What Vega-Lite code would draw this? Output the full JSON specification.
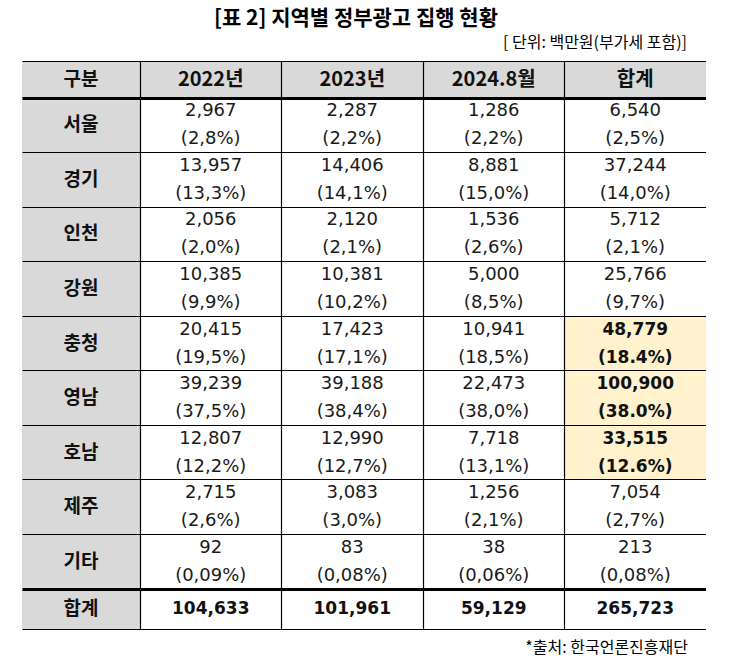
{
  "$schema": "https://vega.github.io/schema/vega-lite/v6.json",
  "background": "white",
  "padding": {"left": 22, "top": 8, "right": 0, "bottom": 12},
  "title": {"text": "[표 2] 지역별 정부광고 집행 현황", "anchor": "middle", "font": "Noto Sans CJK KR", "fontSize": 21, "fontWeight": "bold", "color": "#000", "dx": -8, "offset": 6},
  "config": {
    "view": {"stroke": null},
    "axis": {"labels": false, "ticks": false, "domain": false, "grid": false, "zindex": 1, "gridColor": "#000", "gridOpacity": 1, "gridWidth": 1.2, "domainColor": "#000", "domainWidth": 1.2, "minExtent": 0}
  },
  "datasets": {
    "hdrLabel": [{"col": "구분"}],
    "cols": [{"col": "2022년"}, {"col": "2023년"}, {"col": "2024.8월"}, {"col": "합계"}],
    "regions": [{"region": "서울"}, {"region": "경기"}, {"region": "인천"}, {"region": "강원"}, {"region": "충청"}, {"region": "영남"}, {"region": "호남"}, {"region": "제주"}, {"region": "기타"}],
    "body": [
      {"region": "서울", "col": "2022년", "num": 2967, "pct": "(2,8%)"},
      {"region": "서울", "col": "2023년", "num": 2287, "pct": "(2,2%)"},
      {"region": "서울", "col": "2024.8월", "num": 1286, "pct": "(2,2%)"},
      {"region": "서울", "col": "합계", "num": 6540, "pct": "(2,5%)"},
      {"region": "경기", "col": "2022년", "num": 13957, "pct": "(13,3%)"},
      {"region": "경기", "col": "2023년", "num": 14406, "pct": "(14,1%)"},
      {"region": "경기", "col": "2024.8월", "num": 8881, "pct": "(15,0%)"},
      {"region": "경기", "col": "합계", "num": 37244, "pct": "(14,0%)"},
      {"region": "인천", "col": "2022년", "num": 2056, "pct": "(2,0%)"},
      {"region": "인천", "col": "2023년", "num": 2120, "pct": "(2,1%)"},
      {"region": "인천", "col": "2024.8월", "num": 1536, "pct": "(2,6%)"},
      {"region": "인천", "col": "합계", "num": 5712, "pct": "(2,1%)"},
      {"region": "강원", "col": "2022년", "num": 10385, "pct": "(9,9%)"},
      {"region": "강원", "col": "2023년", "num": 10381, "pct": "(10,2%)"},
      {"region": "강원", "col": "2024.8월", "num": 5000, "pct": "(8,5%)"},
      {"region": "강원", "col": "합계", "num": 25766, "pct": "(9,7%)"},
      {"region": "충청", "col": "2022년", "num": 20415, "pct": "(19,5%)"},
      {"region": "충청", "col": "2023년", "num": 17423, "pct": "(17,1%)"},
      {"region": "충청", "col": "2024.8월", "num": 10941, "pct": "(18,5%)"},
      {"region": "충청", "col": "합계", "num": 48779, "pct": "(18.4%)"},
      {"region": "영남", "col": "2022년", "num": 39239, "pct": "(37,5%)"},
      {"region": "영남", "col": "2023년", "num": 39188, "pct": "(38,4%)"},
      {"region": "영남", "col": "2024.8월", "num": 22473, "pct": "(38,0%)"},
      {"region": "영남", "col": "합계", "num": 100900, "pct": "(38.0%)"},
      {"region": "호남", "col": "2022년", "num": 12807, "pct": "(12,2%)"},
      {"region": "호남", "col": "2023년", "num": 12990, "pct": "(12,7%)"},
      {"region": "호남", "col": "2024.8월", "num": 7718, "pct": "(13,1%)"},
      {"region": "호남", "col": "합계", "num": 33515, "pct": "(12.6%)"},
      {"region": "제주", "col": "2022년", "num": 2715, "pct": "(2,6%)"},
      {"region": "제주", "col": "2023년", "num": 3083, "pct": "(3,0%)"},
      {"region": "제주", "col": "2024.8월", "num": 1256, "pct": "(2,1%)"},
      {"region": "제주", "col": "합계", "num": 7054, "pct": "(2,7%)"},
      {"region": "기타", "col": "2022년", "num": 92, "pct": "(0,09%)"},
      {"region": "기타", "col": "2023년", "num": 83, "pct": "(0,08%)"},
      {"region": "기타", "col": "2024.8월", "num": 38, "pct": "(0,06%)"},
      {"region": "기타", "col": "합계", "num": 213, "pct": "(0,08%)"}
    ],
    "totLabel": [{"region": "합계"}],
    "total": [
      {"region": "합계", "col": "2022년", "num": 104633},
      {"region": "합계", "col": "2023년", "num": 101961},
      {"region": "합계", "col": "2024.8월", "num": 59129},
      {"region": "합계", "col": "합계", "num": 265723}
    ]
  },
  "spacing": 0,
  "vconcat": [
    {
      "title": {"text": "[ 단위:  백만원(부가세 포함)]", "anchor": "end", "font": "Noto Sans CJK KR", "fontSize": 16, "fontWeight": "normal", "color": "#000", "offset": 10, "dx": -19},
      "spacing": 0,
      "hconcat": [
        {
          "width": 118, "height": 37,
          "data": {"name": "hdrLabel"},
          "encoding": {"x": {"field": "col", "type": "nominal", "sort": null, "scale": {"paddingInner": 0, "paddingOuter": 0}, "axis": {"orient": "top", "domain": true, "title": null, "zindex": 1}}},
          "layer": [
            {"mark": {"type": "rect", "fill": "#D9D9D9"}},
            {"mark": {"type": "text", "font": "Noto Sans CJK KR", "fontSize": 19, "fontWeight": "bold", "color": "#111"}, "encoding": {"text": {"field": "col"}}}
          ]
        },
        {
          "width": 566, "height": 37,
          "data": {"name": "cols"},
          "encoding": {"x": {"field": "col", "type": "nominal", "sort": null, "scale": {"paddingInner": 0, "paddingOuter": 0}, "axis": {"orient": "top", "domain": true, "grid": true, "bandPosition": 0, "title": null, "zindex": 1}}},
          "layer": [
            {"mark": {"type": "rect", "fill": "#D9D9D9"}},
            {"mark": {"type": "text", "font": "Noto Sans CJK KR", "fontSize": 20, "fontWeight": "bold", "color": "#111"}, "encoding": {"text": {"field": "col"}}}
          ]
        }
      ]
    },
    {
      "spacing": 0,
      "hconcat": [
        {
          "width": 118, "height": 491,
          "data": {"name": "regions"},
          "encoding": {"y": {"field": "region", "type": "nominal", "sort": null, "scale": {"paddingInner": 0, "paddingOuter": 0}, "axis": {"grid": true, "bandPosition": 0, "title": null, "zindex": 1, "gridWidth": {"condition": {"test": "datum.value === '서울'", "value": 3}, "value": 1.2}}}},
          "layer": [
            {"mark": {"type": "rect", "fill": "#D9D9D9"}},
            {"mark": {"type": "text", "font": "Noto Sans CJK KR", "fontSize": 19, "fontWeight": "bold", "color": "#111"}, "encoding": {"text": {"field": "region"}}}
          ]
        },
        {
          "width": 566, "height": 491,
          "data": {"name": "body"},
          "encoding": {
            "x": {"field": "col", "type": "nominal", "sort": null, "scale": {"paddingInner": 0, "paddingOuter": 0}, "axis": {"orient": "top", "grid": true, "bandPosition": 0, "title": null, "zindex": 1}},
            "y": {"field": "region", "type": "nominal", "sort": null, "scale": {"paddingInner": 0, "paddingOuter": 0}, "axis": {"grid": true, "bandPosition": 0, "title": null, "zindex": 1, "gridWidth": {"condition": {"test": "datum.value === '서울'", "value": 3}, "value": 1.2}}}
          },
          "layer": [
            {"mark": {"type": "rect"}, "encoding": {"fill": {"condition": {"test": "datum.col === '합계' && (datum.region === '충청' || datum.region === '영남' || datum.region === '호남')", "value": "#FFF2CC"}, "value": "#FFFFFF"}}},
            {
              "transform": [{"filter": "!(datum.col === '합계' && (datum.region === '충청' || datum.region === '영남' || datum.region === '호남'))"}],
              "layer": [
                {"mark": {"type": "text", "font": "DejaVu Sans", "fontSize": 18, "dy": -14, "color": "#1a1a1a"}, "encoding": {"text": {"field": "num", "type": "quantitative", "format": ","}}},
                {"mark": {"type": "text", "font": "DejaVu Sans", "fontSize": 18, "dy": 14, "color": "#1a1a1a"}, "encoding": {"text": {"field": "pct"}}}
              ]
            },
            {
              "transform": [{"filter": "datum.col === '합계' && (datum.region === '충청' || datum.region === '영남' || datum.region === '호남')"}],
              "layer": [
                {"mark": {"type": "text", "font": "DejaVu Sans", "fontSize": 17, "fontWeight": "bold", "dy": -14, "color": "#111"}, "encoding": {"text": {"field": "num", "type": "quantitative", "format": ","}}},
                {"mark": {"type": "text", "font": "DejaVu Sans", "fontSize": 17, "fontWeight": "bold", "dy": 14, "color": "#111"}, "encoding": {"text": {"field": "pct"}}}
              ]
            }
          ]
        }
      ]
    },
    {
      "title": {"text": "*출처: 한국언론진흥재단", "orient": "bottom", "anchor": "end", "font": "Noto Sans CJK KR", "fontSize": 16, "fontWeight": "normal", "color": "#000", "offset": 11, "dx": -18},
      "spacing": 0,
      "hconcat": [
        {
          "width": 118, "height": 40,
          "data": {"name": "totLabel"},
          "encoding": {
            "x": {"field": "region", "type": "nominal", "scale": {"paddingInner": 0, "paddingOuter": 0}, "axis": {"orient": "bottom", "domain": true, "title": null, "zindex": 1}},
            "y": {"field": "region", "type": "nominal", "scale": {"paddingInner": 0, "paddingOuter": 0}, "axis": {"grid": true, "bandPosition": 0, "gridWidth": 3, "title": null, "zindex": 1}}
          },
          "layer": [
            {"mark": {"type": "rect", "fill": "#D9D9D9"}},
            {"mark": {"type": "text", "font": "Noto Sans CJK KR", "fontSize": 19, "fontWeight": "bold", "color": "#111"}, "encoding": {"text": {"field": "region"}}}
          ]
        },
        {
          "width": 566, "height": 40,
          "data": {"name": "total"},
          "encoding": {
            "x": {"field": "col", "type": "nominal", "sort": null, "scale": {"paddingInner": 0, "paddingOuter": 0}, "axis": {"orient": "bottom", "domain": true, "grid": true, "bandPosition": 0, "title": null, "zindex": 1}},
            "y": {"field": "region", "type": "nominal", "scale": {"paddingInner": 0, "paddingOuter": 0}, "axis": {"grid": true, "bandPosition": 0, "gridWidth": 3, "title": null, "zindex": 1}}
          },
          "layer": [
            {"mark": {"type": "rect", "fill": "#FFFFFF"}},
            {"mark": {"type": "text", "font": "DejaVu Sans", "fontSize": 17, "fontWeight": "bold", "color": "#111"}, "encoding": {"text": {"field": "num", "type": "quantitative", "format": ","}}}
          ]
        }
      ]
    }
  ]
}
